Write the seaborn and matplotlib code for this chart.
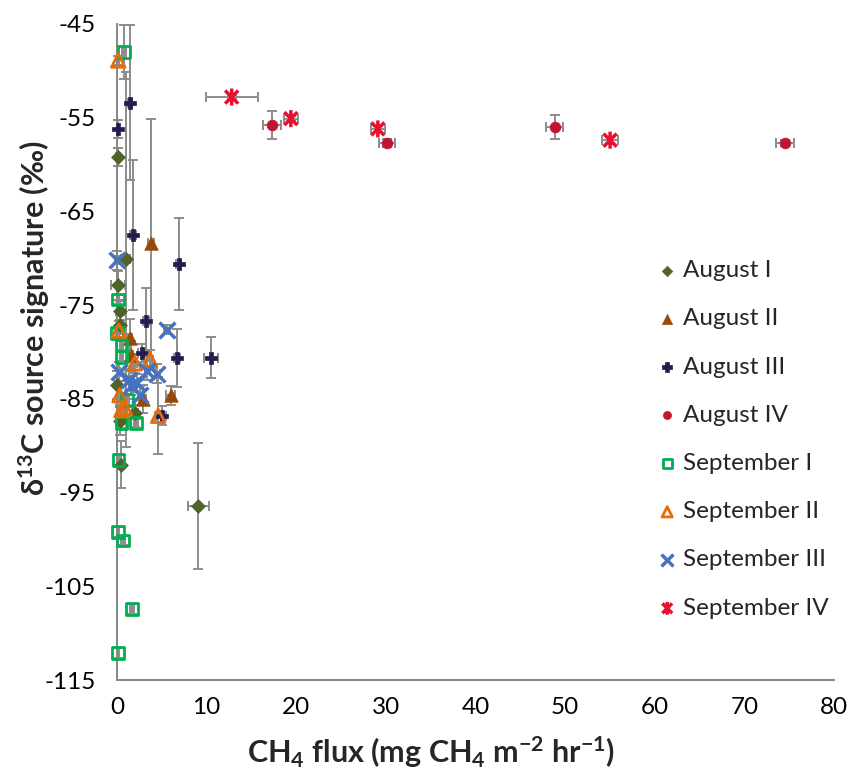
import numpy as np
import matplotlib.pyplot as plt
from matplotlib.path import Path
import seaborn as sns

# ---- data ----
series_names = ["August I", "August II", "August III", "August IV",
                "September I", "September II", "September III", "September IV"]

aug1_x = [0.1, 9.1, 1.0, 0.15, 0.3, 0.4, 0.0, 2.0, 0.3, 0.5]
aug1_y = [-59.2, -96.4, -70.1, -72.9, -75.6, -77.1, -83.5, -86.5, -87.4, -92.0]
aug1_xerr = [0.2, 1.2, 0.5, 0.8, 0.2, 0.2, 0.1, 0.3, 0.2, 0.3]
aug1_yerr = [1.0, 6.7, 20.0, 1.5, 1.0, 1.0, 1.5, 1.5, 1.5, 2.5]

aug2_x = [3.8, 1.45, 1.6, 2.9, 6.0]
aug2_y = [-68.4, -78.5, -80.3, -85.0, -84.6]
aug2_xerr = [0.3, 0.2, 0.2, 0.4, 0.5]
aug2_yerr = [13.3, 2.0, 1.5, 1.5, 1.0]

aug3_x = [0.1, 1.45, 1.8, 3.3, 6.9, 6.7, 10.5, 2.75, 5.0]
aug3_y = [-56.2, -53.4, -67.5, -76.7, -70.6, -80.6, -80.6, -80.1, -86.8]
aug3_xerr = [0.1, 0.2, 0.3, 0.4, 0.3, 0.3, 0.8, 0.4, 0.5]
aug3_yerr = [1.0, 8.3, 8.0, 3.5, 4.9, 3.1, 2.2, 1.0, 1.0]

aug4_x = [17.3, 30.1, 48.8, 74.5]
aug4_y = [-55.8, -57.7, -56.0, -57.7]
aug4_xerr = [1.0, 0.9, 1.0, 1.0]
aug4_yerr = [1.5, 0.4, 1.3, 0.3]

sep1_x = [0.8, 0.1, 0.0, 0.5, 0.5, 1.1, 0.5, 2.1, 0.2, 0.15, 0.7, 1.7, 0.15]
sep1_y = [-48.0, -74.4, -78.0, -79.3, -80.5, -85.1, -87.6, -87.6, -91.5,
          -99.2, -100.1, -107.4, -112.1]
sep1_xerr = [0.2, 0.1, 0.1, 0.2, 0.2, 0.2, 0.1, 0.2, 0.1, 0.1, 0.2, 0.2, 0.1]
sep1_yerr = [2.9, 0.5, 0.5, 0.5, 0.5, 0.5, 0.5, 0.5, 0.5, 0.5, 0.5, 0.5, 0.5]

sep2_x = [0.15, 0.2, 2.0, 3.7, 0.3, 0.5, 0.9, 4.6]
sep2_y = [-48.9, -77.7, -81.2, -80.8, -84.6, -86.2, -86.0, -86.8]
sep2_xerr = [0.1, 0.2, 0.2, 0.3, 0.2, 0.2, 0.2, 0.3]
sep2_yerr = [0.5, 1.0, 1.0, 1.0, 1.0, 1.0, 1.0, 4.1]

sep3_x = [0.0, 5.6, 0.2, 1.3, 1.6, 2.2, 2.6, 3.4, 4.5]
sep3_y = [-70.2, -77.6, -82.1, -83.0, -83.6, -83.3, -84.6, -82.0, -82.3]
sep3_xerr = [0.2, 0.3, 0.2, 0.2, 0.2, 0.3, 0.3, 0.3, 0.3]
sep3_yerr = [1.0, 0.5, 1.0, 1.0, 1.0, 1.0, 1.0, 1.0, 1.0]

sep4_x = [12.8, 19.4, 29.1, 55.0]
sep4_y = [-52.8, -55.1, -56.2, -57.4]
sep4_xerr = [2.9, 0.8, 0.8, 0.9]
sep4_yerr = [0.2, 0.3, 0.3, 0.3]

x_ticks = [0, 10, 20, 30, 40, 50, 60, 70, 80]
y_ticks = [-45, -55, -65, -75, -85, -95, -105, -115]

# ---- style ----
sns.set_style("white")
plt.rcParams['font.family'] = ['Lato', 'DejaVu Sans']
plt.rcParams['axes.unicode_minus'] = False
plt.rcParams['mathtext.fontset'] = 'custom'
plt.rcParams['mathtext.rm'] = 'Lato:bold'
plt.rcParams['mathtext.it'] = 'Lato:bold'
plt.rcParams['mathtext.bf'] = 'Lato:bold'
plt.rcParams['mathtext.default'] = 'rm'

# Excel-like asterisk: an X with a vertical bar
star = Path([(-1, -1), (1, 1), (-1, 1), (1, -1), (0, -1.3), (0, 1.3)],
            [Path.MOVETO, Path.LINETO] * 3)

series = [
    (aug1_x, aug1_y, aug1_xerr, aug1_yerr, dict(marker="D", s=50, color="#4f6228", edgecolor="#4f6228", linewidth=0.5)),
    (aug2_x, aug2_y, aug2_xerr, aug2_yerr, dict(marker="^", s=95, color="#984807", edgecolor="#984807", linewidth=0.5)),
    (aug3_x, aug3_y, aug3_xerr, aug3_yerr, dict(marker="P", s=75, color="#221c4f", edgecolor="#221c4f", linewidth=0.5)),
    (aug4_x, aug4_y, aug4_xerr, aug4_yerr, dict(marker="o", s=60, color="#c0152f", edgecolor="#c0152f", linewidth=0.5)),
    (sep1_x, sep1_y, sep1_xerr, sep1_yerr, dict(marker="s", s=70, color="#00b050", facecolor="none", edgecolor="#00b050", linewidth=2)),
    (sep2_x, sep2_y, sep2_xerr, sep2_yerr, dict(marker="^", s=95, color="#e46c0a", facecolor="none", edgecolor="#e46c0a", linewidth=2)),
    (sep3_x, sep3_y, sep3_xerr, sep3_yerr, dict(marker="x", s=130, color="#4472c4", linewidth=2.5)),
    (sep4_x, sep4_y, sep4_xerr, sep4_yerr, dict(marker=star, s=150, color="#e8102e", facecolor="none", edgecolor="#e8102e", linewidth=2.5)),
]

fig = plt.figure(figsize=(8.47, 7.72), dpi=100)
ax = fig.add_axes([0.138, 0.119, 0.847, 0.85])

# error bars first, markers on top
for x, y, xe, ye, kw in series:
    ax.errorbar(x, y, xerr=xe, yerr=ye, fmt="none", ecolor="#8c8c8c",
                elinewidth=1.4, capsize=3.5, capthick=1.4, zorder=1, clip_on=False)

for name, (x, y, xe, ye, kw) in zip(series_names, series):
    sns.scatterplot(x=x, y=y, ax=ax, label=name, zorder=3, clip_on=False, **kw)

ax.set_xlim(0, 80)
ax.set_ylim(-115, -45)
ax.set_xticks(x_ticks)
ax.set_yticks(y_ticks)

for side in ["top", "right"]:
    ax.spines[side].set_visible(False)
for side in ["left", "bottom"]:
    ax.spines[side].set_color("#868686")
    ax.spines[side].set_linewidth(1.4)
ax.tick_params(direction="out", length=6, width=1.3, color="#868686",
               labelsize=17.5, labelcolor="black")
ax.tick_params(axis="y", pad=9)
ax.tick_params(axis="x", pad=6)

ax.set_xlabel("CH$_4$ flux (mg CH$_4$ m$^{-2}$ hr$^{-1}$)", fontsize=22, fontweight="bold")
ax.set_ylabel("δ$^{13}$C source signature (‰)", fontsize=22, fontweight="bold")
ax.xaxis.set_label_coords(0.438, -0.082)
ax.yaxis.set_label_coords(-0.09, 0.552)

ax.legend(loc="upper left", bbox_to_anchor=(0.74, 0.655), frameon=False,
          fontsize=17.5, labelspacing=1.12, handletextpad=0.25,
          handlelength=0.8, markerscale=0.75, borderaxespad=0)

fig.savefig("out.png", dpi=100)
